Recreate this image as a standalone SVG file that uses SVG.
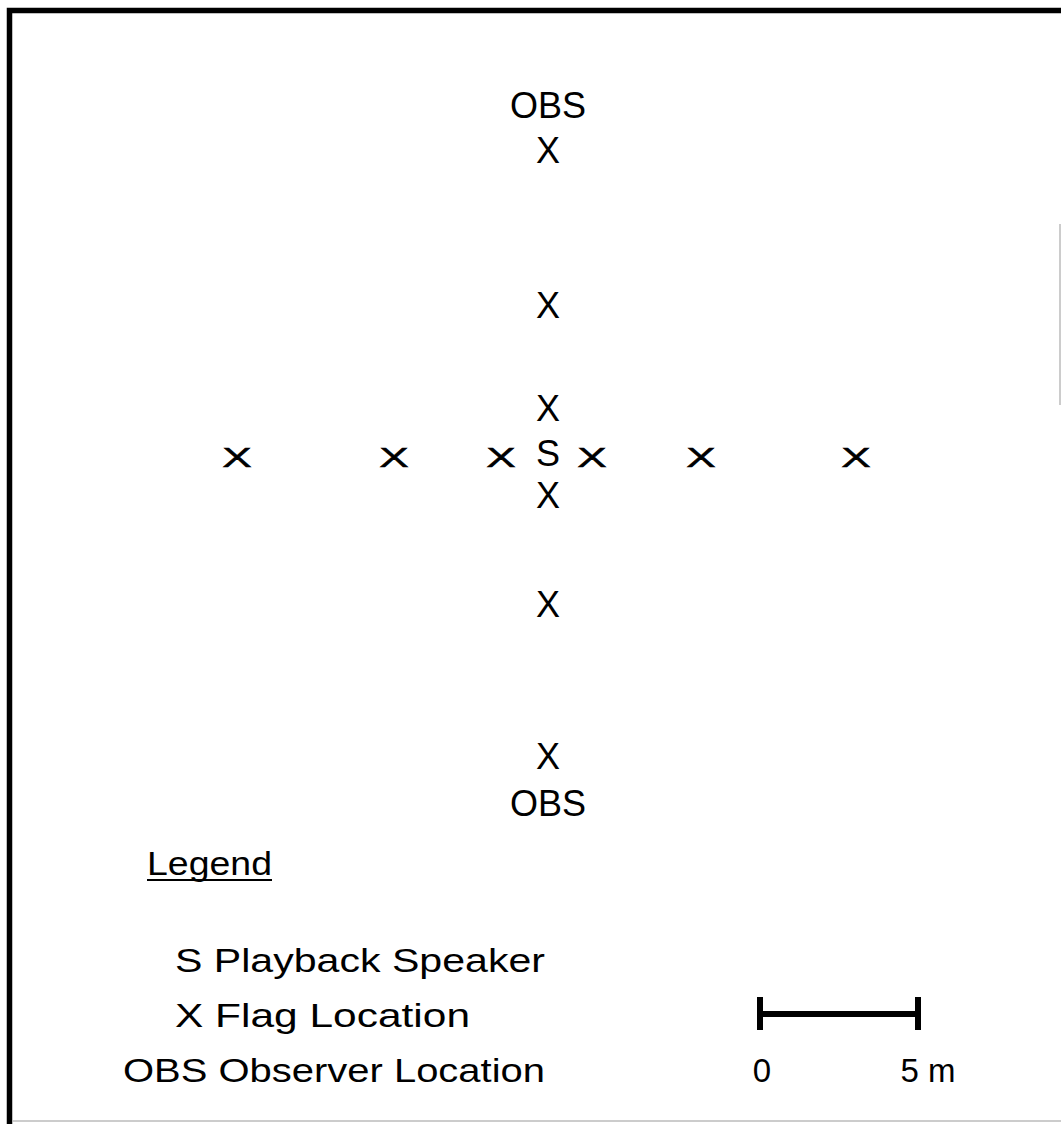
<svg xmlns="http://www.w3.org/2000/svg" width="1061" height="1124" viewBox="0 0 1061 1124">
  <style>
    .lbl { font-family: "Liberation Sans", Arial, sans-serif; font-size: 36px; fill: #000; text-anchor: middle; }
    .flat { font-family: "Liberation Sans", Arial, sans-serif; font-size: 34px; fill: #000; stroke: #000; stroke-width: 0.6; text-anchor: middle; }
    .leg { font-family: "Liberation Sans", Arial, sans-serif; font-size: 33px; fill: #000; }
    .frame { stroke: #000; stroke-width: 5.5; fill: none; }
    .faint { stroke: #bbb; stroke-width: 1.5; fill: none; }
    .bar { stroke: #000; stroke-width: 6; fill: none; }
  </style>
  <rect width="1061" height="1124" fill="#fff"/>

  <!-- frame -->
  <g id="frame">
    <path class="frame" d="M9.5,1124 V10.5 H1061"/>
    <path class="faint" d="M12,1121 H1061"/>
    <path class="faint" d="M1060,224 V405"/>
  </g>

  <!-- vertical line of flags -->
  <g id="obs-top"><text class="lbl" x="548" y="118">OBS</text></g>
  <g id="flag-n3"><text class="lbl" x="548" y="163">X</text></g>
  <g id="flag-n2"><text class="lbl" x="548" y="318">X</text></g>
  <g id="flag-n1"><text class="lbl" x="548" y="421">X</text></g>
  <g id="speaker"><text class="lbl" x="548" y="466">S</text></g>
  <g id="flag-s1"><text class="lbl" x="548" y="508">X</text></g>
  <g id="flag-s2"><text class="lbl" x="548" y="617">X</text></g>
  <g id="flag-s3"><text class="lbl" x="548" y="769">X</text></g>
  <g id="obs-bottom"><text class="lbl" x="548" y="816">OBS</text></g>

  <!-- horizontal line of flags (flattened crosses) -->
  <g id="flag-w3"><text class="flat" transform="translate(237,467) scale(1.3,0.84)">X</text></g>
  <g id="flag-w2"><text class="flat" transform="translate(394,467) scale(1.3,0.84)">X</text></g>
  <g id="flag-w1"><text class="flat" transform="translate(501,467) scale(1.3,0.84)">X</text></g>
  <g id="flag-e1"><text class="flat" transform="translate(592,467) scale(1.3,0.84)">X</text></g>
  <g id="flag-e2"><text class="flat" transform="translate(701,467) scale(1.3,0.84)">X</text></g>
  <g id="flag-e3"><text class="flat" transform="translate(856,467) scale(1.3,0.84)">X</text></g>

  <!-- legend -->
  <g id="legend">
    <text class="leg" x="147" y="875" textLength="125" lengthAdjust="spacingAndGlyphs">Legend</text>
    <line x1="147" y1="880" x2="272" y2="880" stroke="#000" stroke-width="2"/>
    <text class="leg" x="175" y="972" textLength="370" lengthAdjust="spacingAndGlyphs">S  Playback Speaker</text>
    <text class="leg" x="175" y="1027" textLength="295" lengthAdjust="spacingAndGlyphs">X  Flag Location</text>
    <text class="leg" x="123" y="1082" textLength="422" lengthAdjust="spacingAndGlyphs">OBS Observer Location</text>
  </g>

  <!-- scale bar -->
  <g id="scale">
    <path class="bar" d="M760,997 V1030 M760,1014 H918 M918,997 V1030"/>
    <text class="leg" x="762" y="1082" text-anchor="middle">0</text>
    <text class="leg" x="928" y="1082" text-anchor="middle">5 m</text>
  </g>
</svg>
